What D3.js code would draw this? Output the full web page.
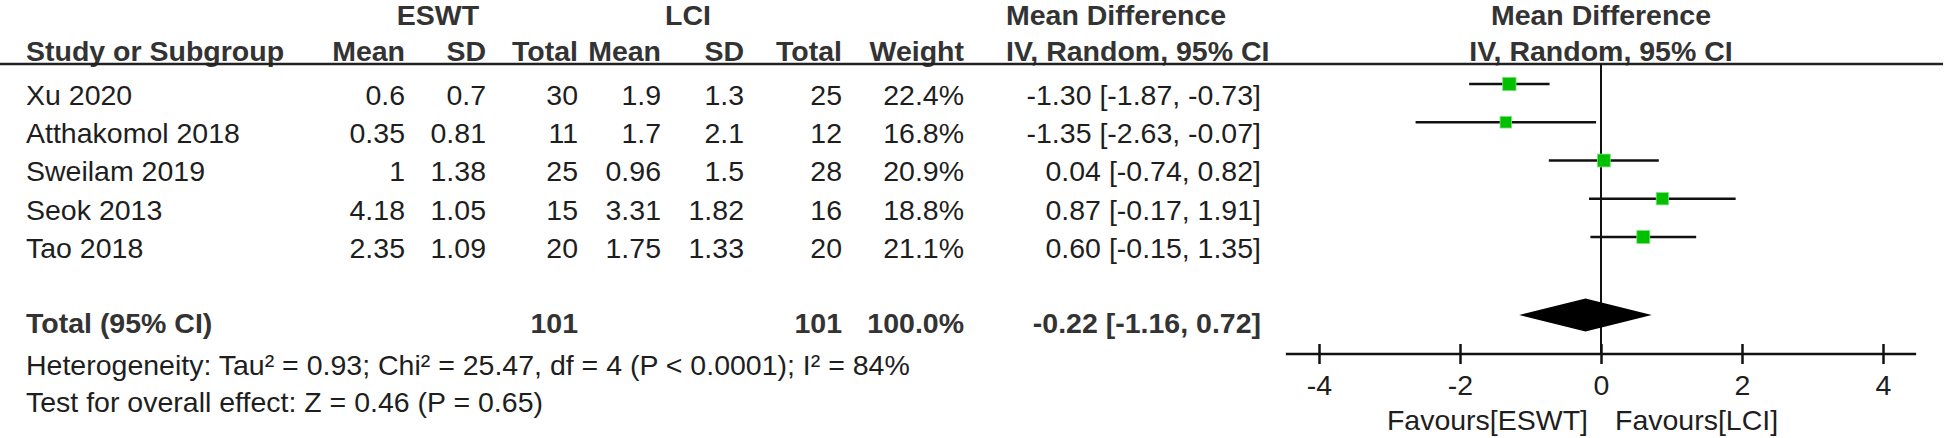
<!DOCTYPE html>
<html>
<head>
<meta charset="utf-8">
<script src="https://cdn.jsdelivr.net/npm/d3@7"></script>
<style>
  html, body { margin: 0; padding: 0; background: #fff; }
  svg { display: block; }
  text { font-family: "Liberation Sans", Arial, sans-serif; font-size: 28.5px; fill: #1e1e1e; }
  .b { font-weight: bold; fill: #333; }
</style>
</head>
<body>
<svg id="chart" width="1946" height="438"></svg>
<script>
// ---- data ----
const studies   = ["Xu 2020", "Atthakomol 2018", "Sweilam 2019", "Seok 2013", "Tao 2018"];
const eswtMean  = ["0.6", "0.35", "1", "4.18", "2.35"];
const eswtSD    = ["0.7", "0.81", "1.38", "1.05", "1.09"];
const eswtTotal = [30, 11, 25, 15, 20];
const lciMean   = ["1.9", "1.7", "0.96", "3.31", "1.75"];
const lciSD     = ["1.3", "2.1", "1.5", "1.82", "1.33"];
const lciTotal  = [25, 12, 28, 16, 20];
const weights   = [22.4, 16.8, 20.9, 18.8, 21.1];
const md        = [-1.30, -1.35, 0.04, 0.87, 0.60];
const ciLow     = [-1.87, -2.63, -0.74, -0.17, -0.15];
const ciHigh    = [-0.73, -0.07, 0.82, 1.91, 1.35];
const totalMD   = -0.22, totalLow = -1.16, totalHigh = 0.72;
const totalESWT = 101, totalLCI = 101, totalWeight = 100.0;
const xTicks    = [-4, -2, 0, 2, 4];
const heterogeneityText = "Heterogeneity: Tau\u00B2 = 0.93; Chi\u00B2 = 25.47, df = 4 (P < 0.0001); I\u00B2 = 84%";
const overallText = "Test for overall effect: Z = 0.46 (P = 0.65)";
const favourLeft = "Favours[ESWT]", favourRight = "Favours[LCI]";

// ---- layout ----
const svg = d3.select("#chart");
const f2 = v => v.toFixed(2);   // plain hyphen-minus, as in the reference
const fmtCI = (m, l, h) => `${f2(m)} [${f2(l)}, ${f2(h)}]`;

const x = d3.scaleLinear().domain([-4, 4]).range([1319, 1883]);
const yRow = d3.scaleLinear().domain([0, studies.length - 1]).range([95, 248]);
const yTotal = 323;
const markOff = -11;

const cols = {
  name: 26, eMean: 405, eSD: 486, eTot: 578, lMean: 661, lSD: 744, lTot: 842, w: 964, ci: 1261, mdHead: 1006
};

function txt(xv, yv, s, anchor, cls) {
  return svg.append("text").attr("x", xv).attr("y", yv).attr("dy", "0.35em")
    .attr("text-anchor", anchor || "start").attr("class", cls || null).text(s);
}

// group headers
const hy1 = 15, hy2 = 51;
txt(438, hy1, "ESWT", "middle", "b");
txt(688, hy1, "LCI", "middle", "b");
txt(cols.mdHead, hy1, "Mean Difference", "start", "b");
txt(x(0), hy1, "Mean Difference", "middle", "b");

txt(cols.name, hy2, "Study or Subgroup", "start", "b");
txt(cols.eMean, hy2, "Mean", "end", "b");
txt(cols.eSD, hy2, "SD", "end", "b");
txt(cols.eTot, hy2, "Total", "end", "b");
txt(cols.lMean, hy2, "Mean", "end", "b");
txt(cols.lSD, hy2, "SD", "end", "b");
txt(cols.lTot, hy2, "Total", "end", "b");
txt(cols.w, hy2, "Weight", "end", "b");
txt(cols.mdHead, hy2, "IV, Random, 95% CI", "start", "b");
txt(x(0), hy2, "IV, Random, 95% CI", "middle", "b");

// header rule
svg.append("line").attr("x1", 0).attr("x2", 1943).attr("y1", 64).attr("y2", 64)
  .attr("stroke", "#222").attr("stroke-width", 2.5);

// study rows
studies.forEach((s, i) => {
  const y = yRow(i);
  txt(cols.name, y, s);
  txt(cols.eMean, y, eswtMean[i], "end");
  txt(cols.eSD, y, eswtSD[i], "end");
  txt(cols.eTot, y, eswtTotal[i], "end");
  txt(cols.lMean, y, lciMean[i], "end");
  txt(cols.lSD, y, lciSD[i], "end");
  txt(cols.lTot, y, lciTotal[i], "end");
  txt(cols.w, y, weights[i].toFixed(1) + "%", "end");
  txt(cols.ci, y, fmtCI(md[i], ciLow[i], ciHigh[i]), "end");
});

// total row
txt(cols.name, yTotal, "Total (95% CI)", "start", "b");
txt(cols.eTot, yTotal, totalESWT, "end", "b");
txt(cols.lTot, yTotal, totalLCI, "end", "b");
txt(cols.w, yTotal, totalWeight.toFixed(1) + "%", "end", "b");
txt(cols.ci, yTotal, fmtCI(totalMD, totalLow, totalHigh), "end", "b");

txt(cols.name, 365, heterogeneityText);
txt(cols.name, 402, overallText);

// ---- plot ----
const axisY = 354;
// zero line
svg.append("line").attr("x1", x(0)).attr("x2", x(0)).attr("y1", 64).attr("y2", axisY)
  .attr("stroke", "#111").attr("stroke-width", 2);

// CI lines and squares
const g = svg.append("g");
g.selectAll("line.ci").data(studies).join("line").attr("class", "ci")
  .attr("x1", (d, i) => x(ciLow[i])).attr("x2", (d, i) => x(ciHigh[i]))
  .attr("y1", (d, i) => yRow(i) + markOff).attr("y2", (d, i) => yRow(i) + markOff)
  .attr("stroke", "#111").attr("stroke-width", 2.5);
const side = w => 2.82 * Math.sqrt(w);
g.selectAll("rect.sq").data(studies).join("rect").attr("class", "sq")
  .attr("x", (d, i) => x(md[i]) - side(weights[i]) / 2)
  .attr("y", (d, i) => yRow(i) + markOff - side(weights[i]) / 2)
  .attr("width", (d, i) => side(weights[i])).attr("height", (d, i) => side(weights[i]))
  .attr("fill", "#00c000").attr("stroke", "#7fdf7f").attr("stroke-width", 0.8);

// diamond
const dy = yTotal - 8, dh = 16.5;
svg.append("path")
  .attr("d", `M${x(totalLow)},${dy} L${x(totalMD)},${dy - dh} L${x(totalHigh)},${dy} L${x(totalMD)},${dy + dh} Z`)
  .attr("fill", "#000");

// axis
const axisG = svg.append("g").attr("transform", `translate(0,${axisY})`)
  .call(d3.axisBottom(x).tickValues(xTicks).tickSize(0).tickPadding(0));
axisG.select(".domain").remove();
axisG.selectAll("text").remove();
axisG.append("line").attr("x1", x(-4.47)).attr("x2", x(4.47)).attr("y1", 0).attr("y2", 0)
  .attr("stroke", "#111").attr("stroke-width", 2.5);
axisG.selectAll(".tick").append("line").attr("y1", -10).attr("y2", 10)
  .attr("stroke", "#111").attr("stroke-width", 2.5);
axisG.selectAll(".tick").append("text").attr("y", 31).attr("dy", "0.35em")
  .attr("text-anchor", "middle").style("font-size", "28.5px").style("fill", "#1e1e1e")
  .text(d => String(d));

txt(x(0) - 13, 420, favourLeft, "end");
txt(x(0) + 14, 420, favourRight, "start");
</script>
</body>
</html>
